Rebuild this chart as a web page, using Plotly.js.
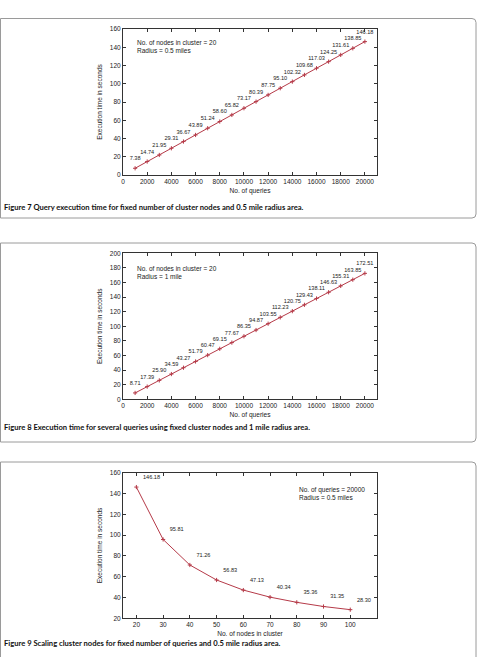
<!DOCTYPE html>
<html>
<head>
<meta charset="utf-8">
<script src="https://cdn.plot.ly/plotly-3.0.1.min.js"></script>
<style>
  html, body { margin: 0; padding: 0; background: #fff; }
  #chart { width: 477px; height: 657px; }
</style>
</head>
<body>
<div id="chart"></div>
<script>
// Figure 7: execution time vs. number of queries (20 nodes, 0.5 mile radius)
const queries = [1000, 2000, 3000, 4000, 5000, 6000, 7000, 8000, 9000, 10000,
                 11000, 12000, 13000, 14000, 15000, 16000, 17000, 18000, 19000, 20000];
const timeHalfMile = [7.38, 14.74, 21.95, 29.31, 36.67, 43.89, 51.24, 58.60, 65.82, 73.17,
                      80.39, 87.75, 95.10, 102.32, 109.68, 117.03, 124.25, 131.61, 138.85, 146.18];

// Figure 8: execution time vs. number of queries (20 nodes, 1 mile radius)
const timeOneMile = [8.71, 17.39, 25.90, 34.59, 43.27, 51.79, 60.47, 69.15, 77.67, 86.35,
                     94.87, 103.55, 112.23, 120.75, 129.43, 138.11, 146.63, 155.31, 163.85, 172.51];

// Figure 9: execution time vs. cluster size (20000 queries, 0.5 mile radius)
const clusterNodes = [20, 30, 40, 50, 60, 70, 80, 90, 100];
const timeByNodes = [146.18, 95.81, 71.26, 56.83, 47.13, 40.34, 35.36, 31.35, 28.30];

const queryTicks = [0, 2000, 4000, 6000, 8000, 10000, 12000, 14000, 16000, 18000, 20000];
const nodeTicks = [20, 30, 40, 50, 60, 70, 80, 90, 100];

const captions = [
  ['Figure 7', 'Query execution time for fixed number of cluster nodes and 0.5 mile radius area.'],
  ['Figure 8', 'Execution time for several queries using fixed cluster nodes and 1 mile radius area.'],
  ['Figure 9', 'Scaling cluster nodes for fixed number of queries and 0.5 mile radius area.']
];
const notes = [
  'No. of nodes in cluster = 20<br>Radius = 0.5 miles',
  'No. of nodes in cluster = 20<br>Radius = 1 mile',
  'No. of queries = 20000<br>Radius = 0.5 miles'
];

// page geometry helpers (pixels -> paper fractions)
const W = 477, H = 657;
const px = x => x / W;
const py = y => 1 - y / H;

const LINE = '#b53a48';
const TXT = '#222';
const FONT = '"Liberation Sans", Arial, sans-serif';

// line with small "+" point marks
function series(x, y, xa, ya) {
  return {
    x: x, y: y, xaxis: xa, yaxis: ya,
    type: 'scatter', mode: 'lines+markers',
    line: { color: LINE, width: 1 },
    marker: { symbol: 'cross-thin', size: 3, line: { color: LINE, width: 1 } },
    hoverinfo: 'x+y'
  };
}
// value labels sitting a little above each point
function labels(x, y, xa, ya, pos) {
  return {
    x: x, y: y, xaxis: xa, yaxis: ya,
    type: 'scatter', mode: 'markers+text',
    marker: { size: 9, opacity: 0 },
    text: y.map(v => v.toFixed(2)),
    textposition: pos,
    textfont: { family: FONT, size: 5.6, color: TXT },
    cliponaxis: false,
    hoverinfo: 'skip'
  };
}

const data = [
  series(queries, timeHalfMile, 'x', 'y'),
  labels(queries, timeHalfMile, 'x', 'y', 'top center'),
  series(queries, timeOneMile, 'x2', 'y2'),
  labels(queries, timeOneMile, 'x2', 'y2', 'top center'),
  series(clusterNodes, timeByNodes, 'x3', 'y3'),
  labels(clusterNodes, timeByNodes, 'x3', 'y3', 'top right')
];

function xAxis(anchor, range, ticks, title) {
  return {
    anchor: anchor, domain: [px(123), px(377)], range: range,
    tickmode: 'array', tickvals: ticks, ticktext: ticks.map(String),
    ticks: 'inside', ticklen: 3, tickcolor: '#333', tickwidth: 1,
    showline: true, linecolor: '#333', linewidth: 1, mirror: 'ticks',
    showgrid: false, zeroline: false,
    tickfont: { family: FONT, size: 6.5, color: TXT },
    title: { text: title, font: { family: FONT, size: 6.6, color: TXT }, standoff: 4 },
    fixedrange: true
  };
}
function yAxis(anchor, top, bottom, range, dtick) {
  return {
    anchor: anchor, domain: [py(bottom), py(top)], range: range,
    tick0: range[0], dtick: dtick,
    ticks: 'inside', ticklen: 3, tickcolor: '#333', tickwidth: 1,
    showline: true, linecolor: '#333', linewidth: 1, mirror: 'ticks',
    showgrid: false, zeroline: false,
    tickfont: { family: FONT, size: 6.5, color: TXT },
    title: { text: 'Execution time in seconds', font: { family: FONT, size: 6.5, color: TXT }, standoff: 6 },
    fixedrange: true
  };
}

// rounded frame around each figure block
function frame(top, bottom) {
  const l = 0.5, r = 476, rad = 4;
  const P = (x, y) => px(x) + ',' + py(y);
  return {
    type: 'path', xref: 'paper', yref: 'paper',
    path: 'M' + P(l, top) + ' L' + P(r - rad, top) + ' Q' + P(r, top) + ' ' + P(r, top + rad) +
          ' L' + P(r, bottom - rad) + ' Q' + P(r, bottom) + ' ' + P(r - rad, bottom) +
          ' L' + P(l, bottom) + ' Z',
    line: { color: '#9a9a9a', width: 1 }, fillcolor: 'rgba(0,0,0,0)', layer: 'below'
  };
}

const annotations = [];
const captionY = [207, 427, 643];
captions.forEach((c, i) => {
  annotations.push({
    xref: 'paper', yref: 'paper', x: px(1.5), y: py(captionY[i]),
    xanchor: 'left', yanchor: 'middle', showarrow: false,
    text: '<b>' + c[0] + ' ' + c[1] + '</b>',
    font: { family: 'Lato, sans-serif', size: 7.6, color: '#111' }
  });
});
const notePos = [[135, 47], [135, 272.5], [296.5, 493]];
notes.forEach((n, i) => {
  annotations.push({
    xref: 'paper', yref: 'paper', x: px(notePos[i][0]), y: py(notePos[i][1]),
    xanchor: 'left', yanchor: 'middle', align: 'left', showarrow: false,
    text: n, font: { family: FONT, size: 6.5, color: TXT }
  });
});

const layout = {
  width: W, height: H,
  margin: { l: 0, r: 0, t: 0, b: 0 },
  paper_bgcolor: '#fff', plot_bgcolor: '#fff',
  showlegend: false,
  xaxis: xAxis('y', [0, 21000], queryTicks, 'No. of queries'),
  xaxis2: xAxis('y2', [0, 21000], queryTicks, 'No. of queries'),
  xaxis3: xAxis('y3', [15, 110], nodeTicks, 'No. of nodes in cluster'),
  yaxis: yAxis('x', 29, 175, [0, 160], 20),
  yaxis2: yAxis('x2', 253.3, 399.3, [0, 200], 20),
  yaxis3: yAxis('x3', 472.7, 618.3, [20, 160], 20),
  shapes: [frame(18.5, 218), frame(243, 442), frame(462, 680)],
  annotations: annotations
};

Plotly.newPlot('chart', data, layout, { displayModeBar: false, staticPlot: true });
</script>
</body>
</html>
